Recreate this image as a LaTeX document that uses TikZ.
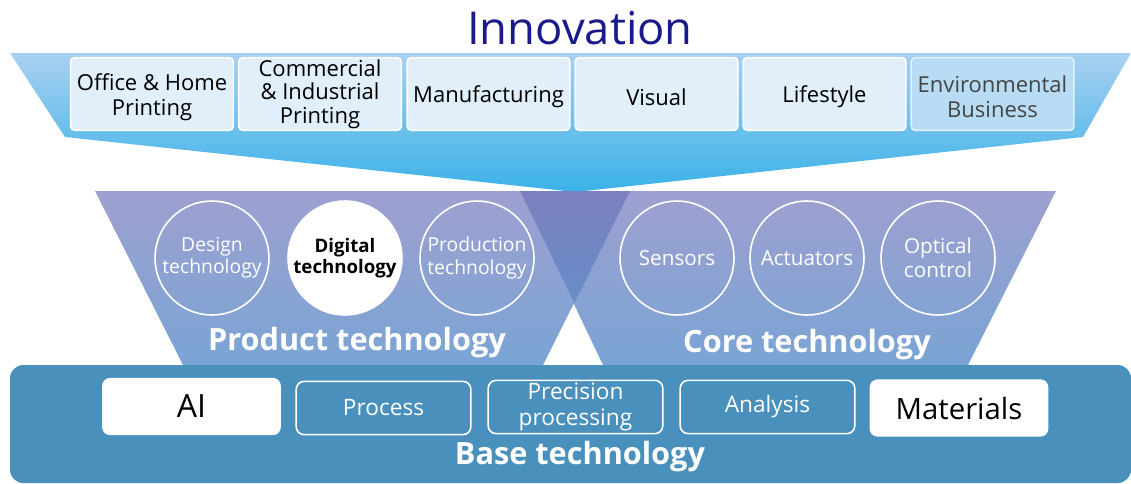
\documentclass[tikz,border=0pt]{standalone}
\usepackage{fontspec}
\setmainfont{Open Sans}
\definecolor{topL}{RGB}{168,208,240}
\definecolor{topB}{RGB}{58,178,232}
\definecolor{trapT}{RGB}{158,160,208}
\definecolor{trapB}{RGB}{122,164,212}
\definecolor{ovT}{RGB}{124,128,192}
\definecolor{ovB}{RGB}{104,140,200}
\definecolor{baseC}{RGB}{74,144,188}
\definecolor{boxF}{RGB}{224,239,250}
\definecolor{envF}{RGB}{184,220,243}
\definecolor{envT}{RGB}{68,68,68}
\definecolor{navy}{RGB}{26,26,140}
\newcommand{\fsz}[1]{\fontsize{#1}{1.15\dimexpr#1pt\relax}\selectfont}
\newcommand{\tup}{\rule{0pt}{17pt}}
\tikzset{
  topbox/.style={draw=white, line width=1.2pt, fill=boxF, rounded corners=3pt,
    minimum width=122pt, minimum height=54.5pt, align=center, inner sep=1pt,
    font=\fsz{16.5}},
  circ/.style={circle, draw=white, line width=1.2pt, minimum size=85.5pt,
    align=center, inner sep=0pt, text=white, font=\fsz{14.5}},
  basebox/.style={draw=white, line width=1.2pt, rounded corners=6pt,
    minimum width=131pt, minimum height=40pt, align=center, inner sep=1pt,
    text=white, font=\fsz{17}},
  basefill/.style={fill=white, rounded corners=6pt,
    minimum width=134pt, minimum height=43pt, align=center, inner sep=1pt},
  biglabel/.style={text=white, font=\fsz{23}\bfseries}
}
\begin{document}
\begin{tikzpicture}[x=0.75pt, y=-0.75pt]
\useasboundingbox (0,0) rectangle (1131,483);
\begin{scope}
\clip (0,0) rectangle (1131,483);
% title
\node[text=navy, font=\fsz{34}] (title) at (580,28) {Innovation};
% top funnel
\shade[top color=topL, bottom color=topB]
  (10,53) -- (1131,53) -- (1083,137) -- (575,192) -- (65,137) -- cycle;
% trapezoids
\shade[top color=trapT, bottom color=trapB]
  (95,191) -- (630,191) -- (543,365) -- (183,365) -- cycle;
\shade[top color=trapT, bottom color=trapB]
  (520,191) -- (1056,191) -- (968,365) -- (603,365) -- cycle;
\shade[top color=ovT, bottom color=ovB]
  (520,191) -- (630,191) -- (574.5,303) -- cycle;
% top boxes
\node[topbox] (office) at (152,94) {\tup Office \& Home\\Printing};
\node[topbox, font=\fontsize{16.5}{17.5}\selectfont] (comm) at (320,94) {Commercial\\\& Industrial\\Printing};
\node[topbox] (manu) at (488.5,94) {\tup Manufacturing};
\node[topbox] (visual) at (656.5,94) {\tup Visual};
\node[topbox] (life) at (824.5,94) {\tup Lifestyle};
\node[topbox, draw=white!60!envF, fill=envF, text=envT] (env) at (992.5,94) {\tup Environmental\\Business};
% circles
\node[circ] (design) at (212,258) {Design\\technology};
\node[circ, fill=white, text=black, font=\fsz{14}\bfseries] (digital) at (345,258) {Digital\\technology};
\node[circ] (prod) at (477,258) {Production\\technology};
\node[circ, font=\fsz{15.5}] (sensors) at (677,258) {Sensors};
\node[circ, font=\fsz{15.5}] (act) at (807,258) {Actuators};
\node[circ, font=\fsz{15.5}] (optical) at (938,258) {Optical\\control};
\node[biglabel] (prodtech) at (357,343) {Product technology};
\node[biglabel] (coretech) at (807,345) {Core technology};
% base band
\fill[baseC, rounded corners=10pt] (10,365) rectangle (1131,483);
\node[basefill, font=\fsz{24}] (ai) at (191.5,406.5) {AI};
\node[basebox] (process) at (383.5,408) {Process};
\node[basebox] (prec) at (575.5,407) {Precision\\processing};
\node[basebox] (analysis) at (767.5,407) {Analysis};
\node[basefill, font=\fsz{22}] (mat) at (959,408) {Materials};
\node[biglabel] (basetech) at (580,457) {Base technology};
\end{scope}
\end{tikzpicture}
\end{document}
